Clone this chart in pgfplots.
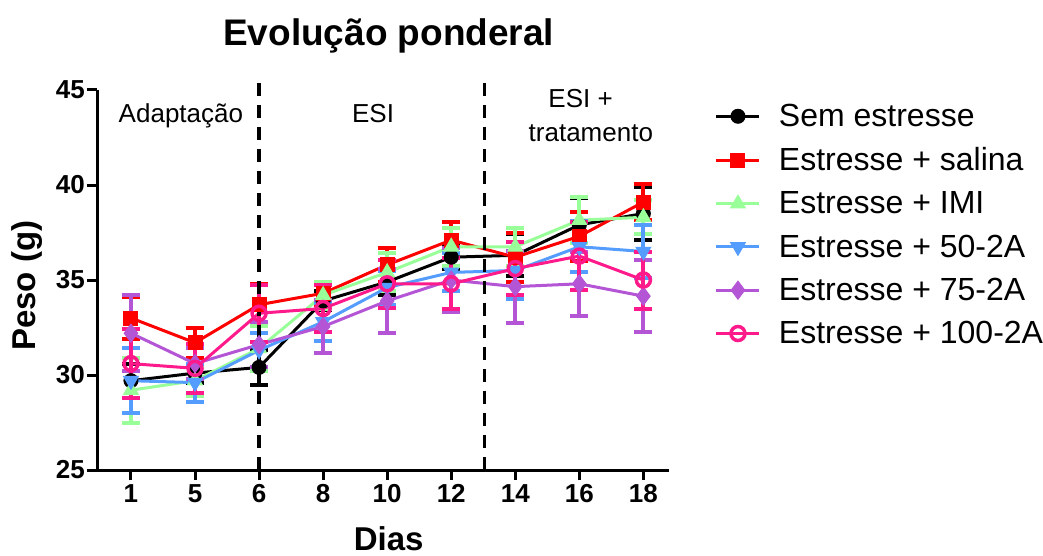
\documentclass[border=0pt]{standalone}
\usepackage{fontspec}
\setmainfont{Liberation Sans}
\usepackage{pgfplots}
\pgfplotsset{compat=1.18}
\definecolor{cred}{HTML}{FF0000}
\definecolor{cgreen}{HTML}{99FF99}
\definecolor{cblue}{HTML}{559CFF}
\definecolor{cpurple}{HTML}{B455D6}
\definecolor{cpink}{HTML}{FF1A8C}
\begin{document}
\begin{tikzpicture}[x=1pt,y=1pt]
\path[use as bounding box] (0,0) rectangle (1043,555);
\begin{axis}[
  at={(97pt,85pt)}, anchor=south west,
  scale only axis, width=572pt, height=380pt,
  xmin=-0.53, xmax=8.4, ymin=25, ymax=45,
  axis x line=bottom, axis y line=left,
  axis line style={line width=3pt, -},
  xtick={0,...,8}, xticklabels={1,5,6,8,10,12,14,16,18},
  ytick={25,30,35,40,45},
  tick align=outside, major tick length=10pt,
  every tick/.style={black, line width=3pt},
  ticklabel style={font=\fontsize{26}{26}\selectfont\bfseries},
  /pgf/number format/assume math mode=true,
  yticklabel style={inner sep=2pt},
  xticklabel style={inner sep=4pt},
  clip=false,
  title={Evolução ponderal},
  title style={font=\fontsize{37}{37}\selectfont\bfseries, at={(axis description cs:0.51,1)}, anchor=base, yshift=38pt},
  xlabel={Dias},
  xlabel style={font=\fontsize{33}{33}\selectfont\bfseries, at={(axis description cs:0.51,0)}, anchor=base, yshift=-80pt},
  ylabel={Peso (g)},
  ylabel style={font=\fontsize{33}{33}\selectfont\bfseries, at={(axis description cs:-0.1224,0.485)}, anchor=center, rotate=0},
  legend style={at={(axis description cs:1.08,0.968)}, anchor=north west, draw=none, fill=none,
    font=\fontsize{32}{32}\selectfont, row sep=15.5pt, column sep=16pt, inner sep=0pt,
    nodes={inner sep=2pt}},
  legend cell align=left,
  legend image code/.code={\draw[mark repeat=2, mark phase=2, #1] plot coordinates {(0pt,0pt) (21.5pt,0pt) (43pt,0pt)};},
  every axis plot/.append style={line width=3pt},
  error bars/y dir=both, error bars/y explicit,
  error bars/error bar style={line width=4pt, solid},
  error bars/error mark options={rotate=90, mark size=9pt, line width=4pt},
]
% Sem estresse
\addplot[black, mark=*, mark size=7pt, mark options={solid, line width=1pt}] table[x=x, y=y, y error=e, row sep=\\] {
x y e \\ 0 29.7 0.9 \\ 1 30.1 0.5 \\ 2 30.4 0.9 \\ 3 33.9 0.5 \\ 4 34.9 0.7 \\ 5 36.2 0.6 \\ 6 36.3 1.1 \\ 7 37.9 1.4 \\ 8 38.5 1.4 \\
};
\addlegendentry{Sem estresse}
% salina
\addplot[cred, mark=square*, mark size=7pt, mark options={solid, line width=1pt}] table[x=x, y=y, y error=e, row sep=\\] {
x y e \\ 0 33.0 1.1 \\ 1 31.7 0.8 \\ 2 33.7 1.1 \\ 3 34.3 0.6 \\ 4 35.8 0.9 \\ 5 37.1 0.95 \\ 6 36.2 1.3 \\ 7 37.3 1.3 \\ 8 39.1 0.95 \\
};
\addlegendentry{Estresse + salina}
% IMI
\addplot[cgreen, mark=triangle*, mark size=8.5pt, mark options={solid, line width=1pt}] table[x=x, y=y, y error=e, row sep=\\] {
x y e \\ 0 29.2 1.7 \\ 1 29.7 0.8 \\ 2 31.4 1.2 \\ 3 34.2 0.7 \\ 4 35.4 1.0 \\ 5 36.75 1.0 \\ 6 36.75 1.0 \\ 7 38.15 1.2 \\ 8 38.3 0.9 \\
};
\addlegendentry{Estresse + IMI}
% 50-2A
\addplot[cblue, mark=triangle*, mark size=8.5pt, mark options={solid, line width=1pt, rotate=180}] table[x=x, y=y, y error=e, row sep=\\] {
x y e \\ 0 29.7 1.7 \\ 1 29.6 1.0 \\ 2 31.3 0.9 \\ 3 32.8 1.0 \\ 4 34.6 0.9 \\ 5 35.4 1.0 \\ 6 35.5 1.5 \\ 7 36.75 1.35 \\ 8 36.5 1.4 \\
};
\addlegendentry{Estresse + 50-2A}
% 75-2A
\addplot[cpurple, mark=diamond*, mark size=9pt, mark options={solid, line width=1pt}] table[x=x, y=y, y error=e, row sep=\\] {
x y e \\ 0 32.2 2.0 \\ 1 30.6 0.8 \\ 2 31.6 1.2 \\ 3 32.55 1.4 \\ 4 33.9 1.7 \\ 5 35.0 1.7 \\ 6 34.65 1.9 \\ 7 34.8 1.7 \\ 8 34.15 1.9 \\
};
\addlegendentry{Estresse + 75-2A}
% 100-2A
\addplot[cpink, mark=o, mark size=7pt, mark options={solid, line width=3.5pt}] table[x=x, y=y, y error=e, row sep=\\] {
x y e \\ 0 30.6 1.8 \\ 1 30.35 1.3 \\ 2 33.25 1.5 \\ 3 33.5 1.25 \\ 4 34.8 1.25 \\ 5 34.8 1.35 \\ 6 35.6 1.4 \\ 7 36.26 1.8 \\ 8 35.0 1.5 \\
};
\addlegendentry{Estresse + 100-2A}
% phase separators
\draw[black, line width=3.5pt, dash pattern=on 13pt off 9pt] (axis cs:2,25) -- (axis cs:2,45.7);
\draw[black, line width=3.5pt, dash pattern=on 13pt off 9pt] (axis cs:5.52,25) -- (axis cs:5.52,45.7);
\node[anchor=base, font=\fontsize{26}{26}\selectfont] at (axis cs:0.78,43.3) {Adaptação};
\node[anchor=base, font=\fontsize{26}{26}\selectfont] at (axis cs:3.78,43.3) {ESI};
\node[anchor=base, font=\fontsize{26}{26}\selectfont] at (axis cs:7.02,44.1) {ESI +};
\node[anchor=base, font=\fontsize{26}{26}\selectfont] at (axis cs:7.18,42.3) {tratamento};
\end{axis}
\end{tikzpicture}
\end{document}
